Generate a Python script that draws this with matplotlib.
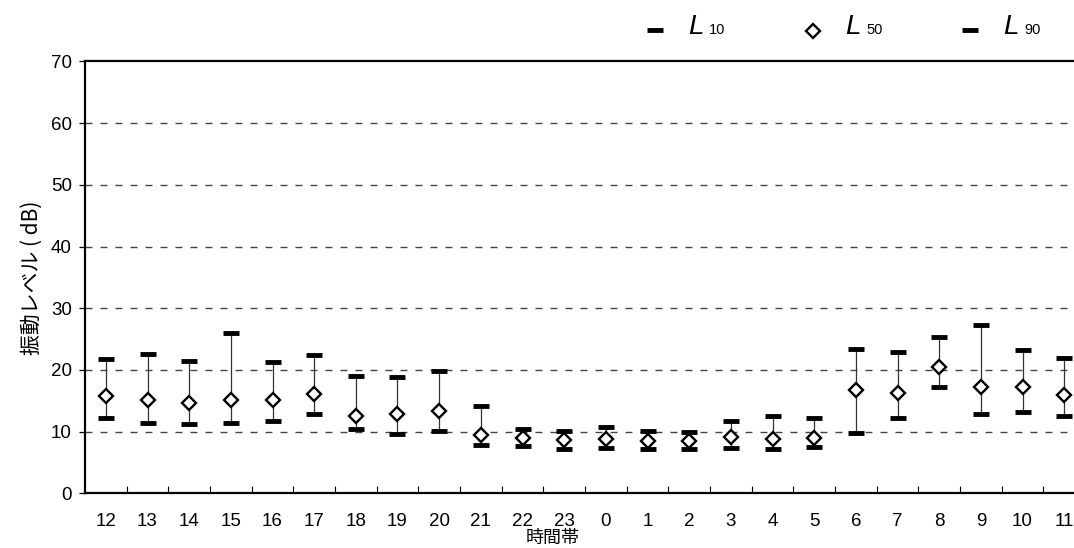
import matplotlib
matplotlib.use("Agg")
import matplotlib.pyplot as plt
import numpy as np

plt.rcParams['font.family'] = ['Liberation Sans', 'Noto Sans CJK JP', 'DejaVu Sans']

hours = ["12", "13", "14", "15", "16", "17", "18", "19", "20", "21", "22", "23",
         "0", "1", "2", "3", "4", "5", "6", "7", "8", "9", "10", "11"]
L10 = [21.8, 22.5, 21.5, 26.0, 21.3, 22.4, 19.0, 18.9, 19.9, 14.1, 10.4, 10.1,
       10.7, 10.15, 10.0, 11.7, 12.6, 12.15, 23.4, 22.9, 25.4, 27.2, 23.2, 22.0]
L50 = [15.8, 15.1, 14.6, 15.1, 15.1, 16.1, 12.6, 12.85, 13.35, 9.4, 8.9, 8.6,
       8.8, 8.5, 8.45, 9.1, 8.8, 8.95, 16.8, 16.2, 20.5, 17.2, 17.2, 15.9]
L90 = [12.2, 11.4, 11.2, 11.4, 11.7, 12.9, 10.4, 9.55, 10.15, 7.8, 7.7, 7.2,
       7.3, 7.2, 7.2, 7.3, 7.1, 7.45, 9.8, 12.25, 17.2, 12.9, 13.2, 12.5]
yticks = [0, 10, 20, 30, 40, 50, 60, 70]
legend_subs = ["10", "50", "90"]

W, H = 1074, 548
fig = plt.figure(figsize=(W / 100, H / 100), dpi=100)
ax = fig.add_axes([85 / W, (H - 493.3) / H, 1000 / W, (493.3 - 61.4) / H])

x = np.arange(len(hours))
ax.vlines(x, L90, L10, colors='#333333', linewidth=0.9, zorder=2)
bar_kw = dict(marker='_', linestyle='none', color='black', markersize=11,
              markeredgewidth=3.5, zorder=3)
ax.plot(x, L10, **bar_kw)
ax.plot(x, L90, **bar_kw)
dia_kw = dict(marker='D', linestyle='none', markerfacecolor='white',
              markeredgecolor='black', markersize=7, markeredgewidth=1.7, zorder=4)
ax.plot(x, L50, **dia_kw)

ax.set_xlim(-0.5, len(hours) - 0.5)
ax.set_ylim(0, 70)
ax.set_yticks(yticks)
ax.set_yticklabels([str(v) for v in yticks], fontsize=13.5)
ax.set_xticks(x)
ax.set_xticklabels(hours, fontsize=13.5)
ax.set_xticks(np.arange(len(hours) - 1) + 0.5, minor=True)
ax.tick_params(axis='x', which='major', length=0, pad=14)
ax.tick_params(axis='x', which='minor', direction='in', length=5, width=0.8)
ax.tick_params(axis='y', which='major', direction='out', length=4.5, width=0.9, pad=5)

for v in yticks[1:-1]:
    ax.axhline(v, color='#444444', linewidth=1.0, dashes=(5, 5.8), zorder=1)

for s in ['left', 'top', 'bottom']:
    ax.spines[s].set_linewidth(1.6)
ax.spines['right'].set_visible(False)

ax.set_ylabel("振動レベル ( dB)", fontsize=15, family=['Noto Sans CJK JP', 'DejaVu Sans'])
ax.yaxis.set_label_coords((43 - 85) / 1000, 0.5)
fig.text(553 / W, 1 - 538 / H, "時間帯", fontsize=13, ha='center', va='center',
         family=['Noto Sans CJK JP', 'DejaVu Sans'])

# legend drawn in pixel space overlay
lg = fig.add_axes([0, 0, 1, 1], facecolor='none')
lg.set_xlim(0, W)
lg.set_ylim(H, 0)
lg.axis('off')
leg_marks = [bar_kw, dia_kw, bar_kw]
leg_x = [655, 812.5, 970]
for kw, mx, sub in zip(leg_marks, leg_x, legend_subs):
    lg.plot([mx], [29.5 if kw is bar_kw else 30.5], **kw)
    lg.text(mx + 33, 34, "L", fontsize=20, style='italic', ha='left', va='baseline')
    lg.text(mx + 54, 34, sub, fontsize=10.5, ha='left', va='baseline')

fig.savefig("out.png", dpi=100)
